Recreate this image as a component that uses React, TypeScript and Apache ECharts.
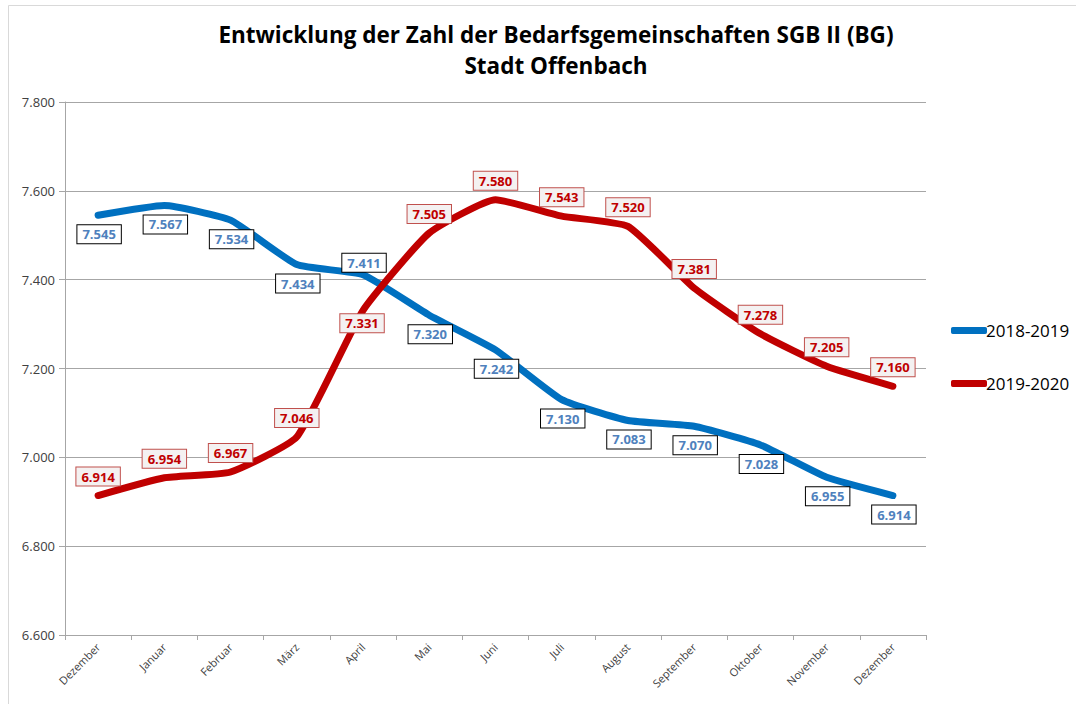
import React, { useEffect, useRef } from "react";
import * as echarts from "echarts";

const categories = ["Dezember", "Januar", "Februar", "März", "April", "Mai", "Juni", "Juli", "August", "September", "Oktober", "November", "Dezember"];
const series1Name = "2018-2019";
const series1 = [7545, 7567, 7534, 7434, 7411, 7320, 7242, 7130, 7083, 7070, 7028, 6955, 6914];
const series2Name = "2019-2020";
const series2 = [6914, 6954, 6967, 7046, 7331, 7505, 7580, 7543, 7520, 7381, 7278, 7205, 7160];
const yTicks = [6600, 6800, 7000, 7200, 7400, 7600, 7800];
const titleLines = ["Entwicklung der Zahl der Bedarfsgemeinschaften SGB II (BG)", "Stadt Offenbach"];

const fmt = (v: number) => {
  const s = Math.round(v).toString();
  return s.replace(/\B(?=(\d{3})+(?!\d))/g, ".");
};

// label offset exceptions (index -> [dx, dy]) relative to point center
const blueOffsets: Record<number, number[]> = { 4: [1, -12] };
const redOffsets: Record<number, number[]> = { 4: [-1, 13] };

export default function App() {
  const ref = useRef<HTMLDivElement>(null);
  useEffect(() => {
    if (!ref.current) return;
    const chart = echarts.init(ref.current, null, { renderer: "svg" });
    const font = "'Open Sans', 'Noto Sans', sans-serif";
    const blueLabel = {
      show: true,
      position: "inside",
      formatter: (p: any) => fmt(p.value),
      color: "#4f81bd",
      fontWeight: "bold",
      fontSize: 13,
      fontFamily: font,
      backgroundColor: "#ffffff",
      borderColor: "#000000",
      borderWidth: 1,
      padding: [3, 5, 2, 5],
    };
    const redLabel = {
      ...blueLabel,
      color: "#c00000",
      backgroundColor: "#f4f1f1",
      borderColor: "#c0504d",
    };
    const mk = (vals: number[], offs: Record<number, number[]>, def: number[]) =>
      vals.map((v, i) => ({
        value: v,
        label: { offset: offs[i] ?? def },
      }));
    chart.setOption({
      animation: false,
      backgroundColor: "#ffffff",
      title: {
        text: titleLines.join("\n"),
        left: 551,
        textAlign: "center",
        top: 14,
        textStyle: {
          fontFamily: font,
          fontWeight: "bold",
          fontSize: 22.5,
          lineHeight: 31,
          color: "#000000",
        },
      },
      legend: {
        orient: "vertical",
        left: 946,
        top: 317,
        itemGap: 36,
        itemWidth: 36,
        itemHeight: 7,
        icon: "roundRect",
        textStyle: { fontFamily: font, fontSize: 17, color: "#000000", padding: [0, 0, 0, -6] },
        data: [series1Name, series2Name],
      },
      grid: { left: 65, right: 150, top: 102, bottom: 69, containLabel: false },
      xAxis: {
        type: "category",
        data: categories,
        boundaryGap: true,
        axisLine: { lineStyle: { color: "#a6a6a6" } },
        axisTick: { show: true, alignWithLabel: false, length: 5, lineStyle: { color: "#a6a6a6" } },
        axisLabel: {
          rotate: 45,
          interval: 0,
          fontFamily: font,
          fontSize: 11,
          color: "#404040",
          margin: 10,
        },
      },
      yAxis: {
        type: "value",
        min: 6600,
        max: 7800,
        interval: 200,
        axisLine: { show: true, lineStyle: { color: "#a6a6a6" } },
        axisTick: { show: true, length: 6, lineStyle: { color: "#a6a6a6" } },
        splitLine: { lineStyle: { color: "#a6a6a6" } },
        axisLabel: {
          fontFamily: font,
          fontSize: 13,
          color: "#404040",
          margin: 10,
          formatter: (v: number) => (yTicks.includes(v) ? fmt(v) : ""),
        },
      },
      series: [
        {
          name: series1Name,
          type: "line",
          data: mk(series1, blueOffsets, [1, 19]),
          smooth: 0.15,
          symbol: "circle",
          symbolSize: 1,
          color: "#0070c0",
          lineStyle: { width: 7, color: "#0070c0", cap: "round", join: "round" },
          label: blueLabel,
          z: 2,
        },
        {
          name: series2Name,
          type: "line",
          data: mk(series2, redOffsets, [0, -19]),
          smooth: 0.15,
          symbol: "circle",
          symbolSize: 1,
          color: "#c00000",
          lineStyle: { width: 7, color: "#c00000", cap: "round", join: "round" },
          label: redLabel,
          z: 3,
        },
      ],
      graphic: [
        { type: "line", shape: { x1: 8.5, y1: 5.5, x2: 8.5, y2: 704 }, style: { stroke: "#d9d9d9", lineWidth: 1 } },
        { type: "line", shape: { x1: 8.5, y1: 5.5, x2: 1076, y2: 5.5 }, style: { stroke: "#d9d9d9", lineWidth: 1 } },
      ],
    });
    return () => chart.dispose();
  }, []);
  return (
    <div
      ref={ref}
      style={{ position: "absolute", left: 0, top: 0, width: 1076, height: 704 }}
    />
  );
}
